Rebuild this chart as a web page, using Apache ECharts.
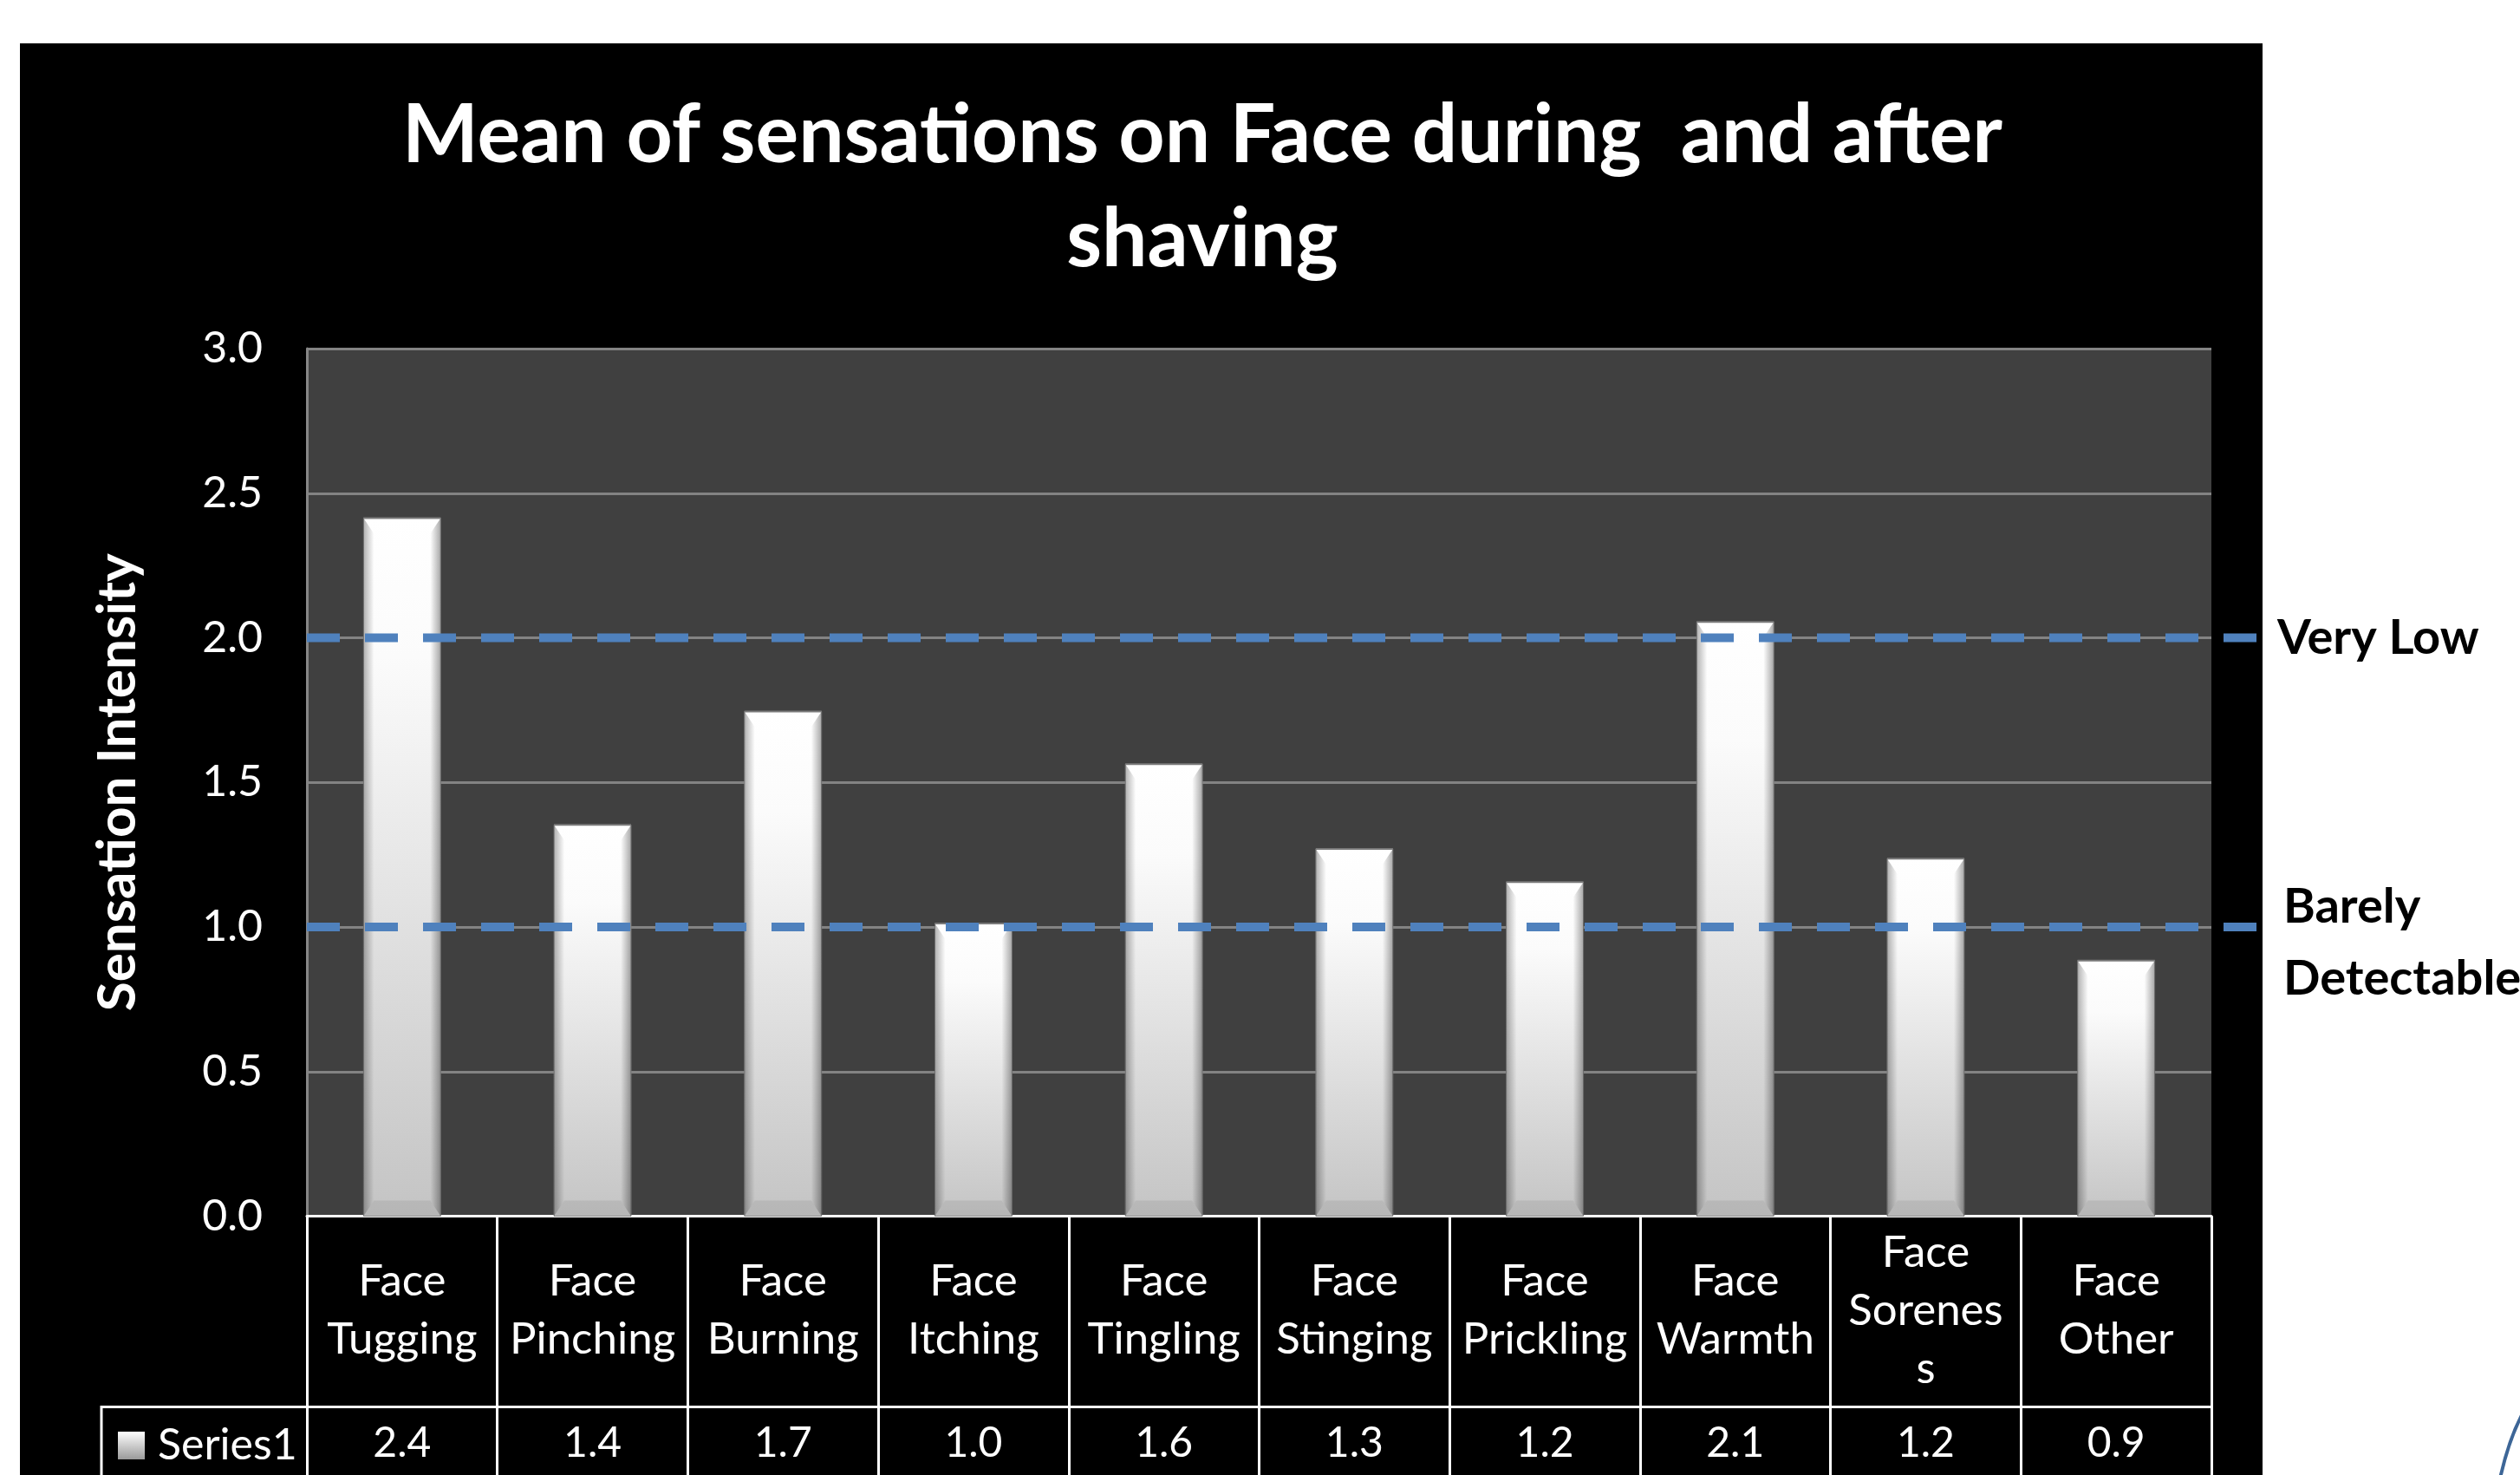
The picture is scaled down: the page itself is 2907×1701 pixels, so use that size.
<!DOCTYPE html>
<html>
<head>
<meta charset="utf-8">
<title>Mean of sensations on Face during and after shaving</title>
<script src="https://cdn.jsdelivr.net/npm/echarts@6/dist/echarts.min.js"></script>
<style>
  html, body { margin: 0; padding: 0; background: #ffffff; overflow: hidden; }
  #panel { position: absolute; left: 23px; top: 50px; width: 2587px; height: 1700px; background: #000000; }
  #chart { position: absolute; left: 0; top: 0; width: 2907px; height: 1701px; }
</style>
</head>
<body>
<div id="panel"></div>
<div id="chart"></div>
<script>
// ---- data ----
const categories = [
  'Face\nTugging', 'Face\nPinching', 'Face\nBurning', 'Face\nItching', 'Face\nTingling',
  'Face\nStinging', 'Face\nPrickling', 'Face\nWarmth', 'Face\nSorenes\ns', 'Face\nOther'
];
const meanIntensity = [2.414, 1.353, 1.745, 1.012, 1.563, 1.270, 1.155, 2.055, 1.236, 0.884];
const seriesName = 'Series1';
const yMin = 0, yMax = 3, yStep = 0.5;
const refLevels = [2, 1];
const refLabels = ['Very Low', 'Barely\nDetectable'];

// ---- layout ----
const FONT = 'Lato, "Noto Sans", sans-serif';
const GRID = { left: 354, top: 402, right: 356, bottom: 298.5 };
const HEADER_H = 220;
const REF_RIGHT = 297;   // reference lines run past the plot to the panel edge
const BLUE = '#4F81BD';

const chart = echarts.init(document.getElementById('chart'), null, { renderer: 'canvas' });

const barFill = new echarts.graphic.LinearGradient(0, 0, 0, 1, [
  { offset: 0, color: '#ffffff' },
  { offset: 0.2, color: '#fbfbfb' },
  { offset: 1, color: '#c4c4c4' }
]);
const leftShade = new echarts.graphic.LinearGradient(0, 0, 1, 0, [
  { offset: 0, color: 'rgba(0,0,0,0.30)' },
  { offset: 1, color: 'rgba(0,0,0,0)' }
]);
const rightShade = new echarts.graphic.LinearGradient(0, 0, 1, 0, [
  { offset: 0, color: 'rgba(0,0,0,0)' },
  { offset: 1, color: 'rgba(0,0,0,0.34)' }
]);

// bevelled white column
function renderBar(params, api) {
  const idx = api.value(0);
  const val = api.value(1);
  const top = api.coord([idx, val]);
  const base = api.coord([idx, 0]);
  const bw = api.size([1, 0])[0] * 0.405;
  const x0 = top[0] - bw / 2, x1 = top[0] + bw / 2;
  const y0 = top[1], y1 = base[1];
  const h = y1 - y0;
  const e = 12, bv = Math.min(18, h / 4);
  return {
    type: 'group',
    children: [
      { type: 'rect', shape: { x: x0, y: y0, width: bw, height: h },
        style: { fill: barFill, stroke: 'rgba(120,120,120,0.8)', lineWidth: 1 } },
      { type: 'polygon', shape: { points: [[x0, y0], [x0 + e, y0 + bv], [x0 + e, y1 - bv], [x0, y1]] },
        style: { fill: leftShade } },
      { type: 'polygon', shape: { points: [[x1, y0], [x1 - e, y0 + bv], [x1 - e, y1 - bv], [x1, y1]] },
        style: { fill: rightShade } },
      { type: 'polygon', shape: { points: [[x0, y1], [x0 + e, y1 - bv], [x1 - e, y1 - bv], [x1, y1]] },
        style: { fill: 'rgba(0,0,0,0.07)' } },
      { type: 'line', shape: { x1: x0, y1: y0, x2: x1, y2: y0 },
        style: { stroke: '#7a7a7a', lineWidth: 2 } }
    ]
  };
}

const refSeries = refLevels.map((lvl, i) => ({
  type: 'line',
  name: refLabels[i],
  xAxisIndex: 2,
  yAxisIndex: 1,
  data: [[0, lvl], [1, lvl]],
  symbol: 'none',
  z: 10,
  silent: true,
  lineStyle: { color: BLUE, width: 10, type: [38, 29], cap: 'butt' },
  endLabel: {
    show: true,
    formatter: refLabels[i],
    distance: i === 0 ? 17 : 24,
    offset: i === 0 ? [0, 0] : [0, 18],
    color: '#000000',
    fontFamily: FONT,
    fontWeight: 'bold',
    fontSize: 56,
    lineHeight: 83,
    align: 'left'
  }
}));

const option = {
  animation: false,
  backgroundColor: 'transparent',
  title: {
    text: 'Mean of sensations on Face during  and after\nshaving',
    left: 1387,
    top: 97,
    textAlign: 'center',
    padding: 0,
    textStyle: { color: '#ffffff', fontFamily: FONT, fontWeight: 'bold', fontSize: 93, lineHeight: 120 }
  },
  legend: {
    data: [seriesName],
    left: 136,
    top: 1642,
    padding: 0,
    itemWidth: 31,
    itemHeight: 32,
    icon: 'rect',
    selectedMode: false,
    textStyle: { color: '#ffffff', fontFamily: FONT, fontSize: 50, padding: [0, 0, 0, 10] }
  },
  grid: [
    { left: GRID.left, top: GRID.top, right: GRID.right, bottom: GRID.bottom,
      show: true, backgroundColor: '#404040', borderWidth: 0 },
    { left: GRID.left, top: GRID.top, right: REF_RIGHT, bottom: GRID.bottom, show: false }
  ],
  xAxis: [
    {
      type: 'category', gridIndex: 0, data: categories, position: 'bottom',
      axisLine: { lineStyle: { color: '#ffffff', width: 3 } },
      axisTick: { show: true, interval: 0, length: HEADER_H, lineStyle: { color: '#ffffff', width: 3 } },
      axisLabel: { interval: 0, margin: 109, verticalAlign: 'middle', color: '#ffffff',
                   fontFamily: FONT, fontSize: 51, lineHeight: 67 },
      splitLine: { show: false }
    },
    {
      type: 'category', gridIndex: 0, data: categories, position: 'bottom', offset: HEADER_H,
      axisLine: { lineStyle: { color: '#ffffff', width: 3 } },
      axisTick: { show: true, interval: 0, length: 140, lineStyle: { color: '#ffffff', width: 3 } },
      axisLabel: { interval: 0, margin: 42, verticalAlign: 'middle', color: '#ffffff',
                   fontFamily: FONT, fontSize: 48,
                   formatter: (v, i) => meanIntensity[i].toFixed(1) },
      splitLine: { show: false }
    },
    { type: 'value', gridIndex: 1, min: 0, max: 1, show: false }
  ],
  yAxis: [
    {
      type: 'value', gridIndex: 0, min: yMin, max: yMax, interval: yStep,
      name: 'Sensation Intensity', nameLocation: 'middle', nameRotate: 90, nameGap: 187,
      nameTextStyle: { color: '#ffffff', fontFamily: FONT, fontWeight: 'bold', fontSize: 62 },
      axisLine: { show: true, lineStyle: { color: '#868686', width: 3 } },
      axisTick: { show: false },
      axisLabel: { color: '#ffffff', fontFamily: FONT, fontSize: 50, margin: 51,
                   formatter: v => v.toFixed(1) },
      splitLine: { show: true, lineStyle: { color: '#838383', width: 3 } }
    },
    { type: 'value', gridIndex: 1, min: yMin, max: yMax, show: false }
  ],
  series: [
    {
      type: 'custom',
      name: seriesName,
      xAxisIndex: 0,
      yAxisIndex: 0,
      renderItem: renderBar,
      itemStyle: {
        color: new echarts.graphic.LinearGradient(0, 0, 0, 1, [
          { offset: 0, color: '#ffffff' },
          { offset: 1, color: '#9a9a9a' }
        ])
      },
      encode: { x: 0, y: 1 },
      data: meanIntensity.map((v, i) => [i, v]),
      z: 3
    },
    ...refSeries
  ],
  graphic: [
    // Series1 cell border of the data table
    {
      type: 'polyline',
      shape: { points: [[117, 1760], [117, 1701 - GRID.bottom + HEADER_H], [GRID.left, 1701 - GRID.bottom + HEADER_H]] },
      style: { stroke: '#ffffff', lineWidth: 3, fill: null },
      z: 5
    },
    // corner ornament of the page
    {
      type: 'bezierCurve',
      shape: { x1: 2910, y1: 1630, cpx1: 2894, cpy1: 1660, x2: 2884, y2: 1705 },
      style: { stroke: '#3d6697', lineWidth: 4, fill: null },
      z: 5
    }
  ]
};

chart.setOption(option);
</script>
</body>
</html>
